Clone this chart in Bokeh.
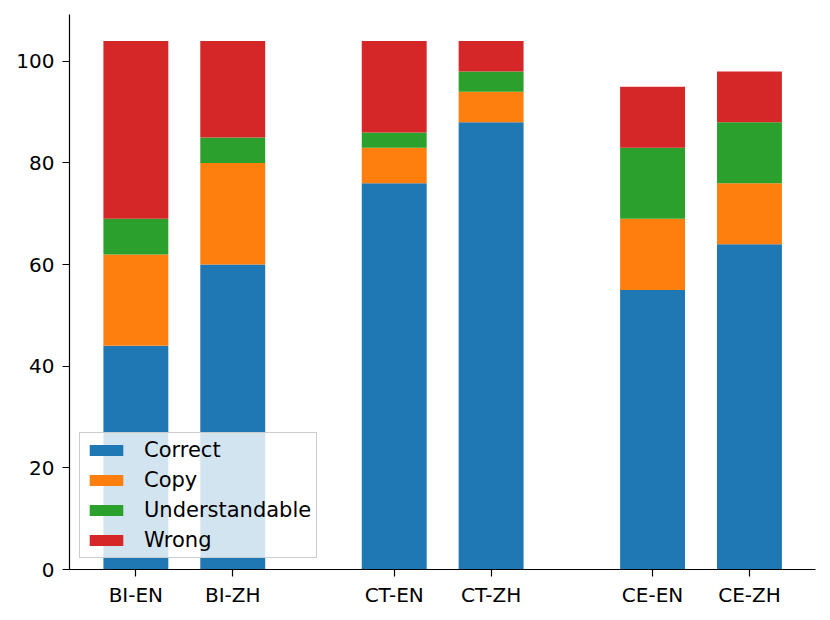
from bokeh.plotting import figure
from bokeh.models import FixedTicker, Range1d, ColumnDataSource
from bokeh.embed import file_html
from bokeh.resources import INLINE

categories = ["BI-EN", "BI-ZH", "CT-EN", "CT-ZH", "CE-EN", "CE-ZH"]
groups = [0, 0, 1, 1, 2, 2]
within = [0, 1, 0, 1, 0, 1]
correct = [44, 60, 76, 88, 55, 64]
copy = [18, 20, 7, 6, 14, 12]
understandable = [7, 5, 3, 4, 14, 12]
wrong = [35, 19, 18, 6, 12, 10]
series = ["Correct", "Copy", "Understandable", "Wrong"]
colors = ["#1f77b4", "#ff7f0e", "#2ca02c", "#d62728"]
yticks = [0, 20, 40, 60, 80, 100]

group_step = 8 / 3
x = [g * group_step + w for g, w in zip(groups, within)]
source = ColumnDataSource(dict(x=x, Correct=correct, Copy=copy,
                               Understandable=understandable, Wrong=wrong))

p = figure(width=822, height=612, output_backend="svg", toolbar_location=None,
           x_range=Range1d(-0.685, 7.015), y_range=Range1d(0, 109.2),
           min_border_left=69, min_border_right=7, min_border_top=14,
           min_border_bottom=43)

p.vbar_stack(series, x="x", width=0.67, fill_color=colors, line_color=None,
             source=source, legend_label=series)

p.xgrid.grid_line_color = None
p.ygrid.grid_line_color = None
p.outline_line_color = None

p.xaxis.ticker = FixedTicker(ticks=x)
p.xaxis.major_label_overrides = {xi: c for xi, c in zip(x, categories)}
p.yaxis.ticker = FixedTicker(ticks=yticks)

for ax in (p.xaxis, p.yaxis):
    ax.axis_line_color = "black"
    ax.axis_line_width = 1.2
    ax.major_tick_line_color = "black"
    ax.major_tick_line_width = 1.2
    ax.major_tick_out = 7
    ax.major_tick_in = 0
    ax.minor_tick_line_color = None
    ax.major_label_text_font = "DejaVu Sans"
    ax.major_label_text_font_size = "20px"
    ax.major_label_text_color = "black"
p.yaxis.major_label_standoff = 8
p.xaxis.major_label_standoff = 6

leg = p.legend[0]
leg.location = (10, 11)
leg.margin = 0
leg.label_text_font = "DejaVu Sans"
leg.label_text_font_size = "21px"
leg.label_text_color = "black"
leg.glyph_width = 42
leg.glyph_height = 14
leg.label_standoff = 17
leg.padding = 5
leg.spacing = 6
leg.label_height = 21
leg.border_line_color = "#cccccc"
leg.border_line_alpha = 1.0
leg.border_line_width = 1.2
leg.background_fill_color = "white"
leg.background_fill_alpha = 0.8

open("out.html", "w").write(file_html(p, INLINE))
